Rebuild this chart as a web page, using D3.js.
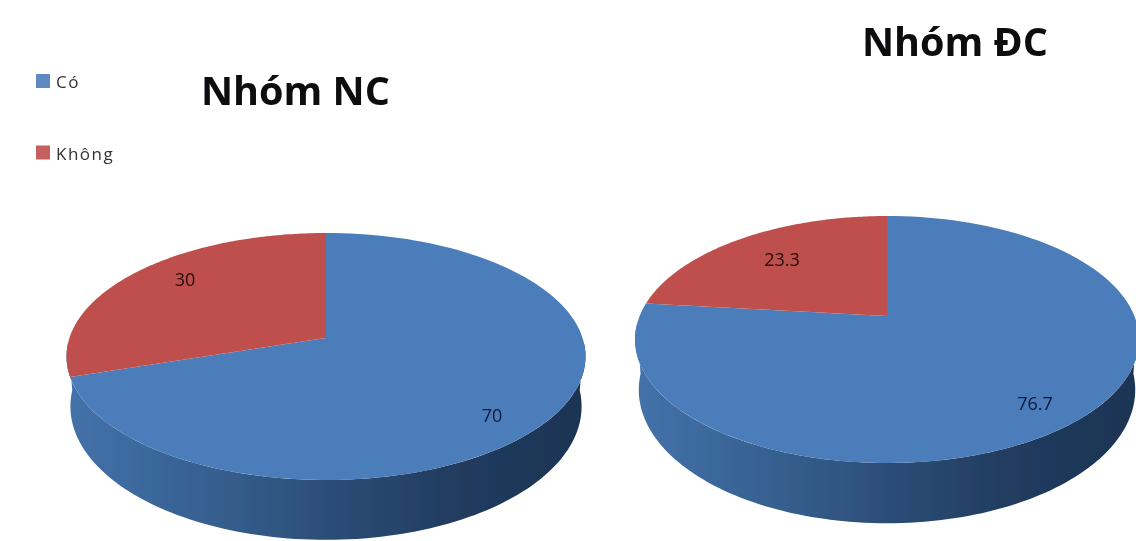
<!DOCTYPE html>
<html><head><meta charset="utf-8">
<script src="https://cdn.jsdelivr.net/npm/d3@7"></script>
<style>html,body{margin:0;padding:0;background:#fff}svg{display:block}text{font-family:"Open Sans","Noto Sans",sans-serif}</style>
</head><body><svg id="c" width="1136" height="541"></svg>
<script>
const categories = ["Có", "Không"];
const seriesNC = [70, 30];
const seriesDC = [76.7, 23.3];
const chartTitles = ["Nhóm NC", "Nhóm ĐC"];
const colors = d3.scaleOrdinal(categories, ["#4c7dba", "#bf504d"]);

const layouts = [
  {values: seriesNC, cx: 326, cy: 338, top: 105, bottom: 142, halfW: 259.5, title: [201, 105, 39.5], labels: [[492, 417], [185, 281]], id: "a"},
  {values: seriesDC, cx: 887, cy: 316, top: 100, bottom: 147, halfW: 252, title: [862, 56, 39.5], labels: [[1035, 405], [782, 261]], id: "b"}
];
const wallShift = 48.5, wallStretch = 1.08, wallNarrow = 0.985;

const svg = d3.select("#c");
const defs = svg.append("defs");
defs.append("filter").attr("id", "soft").append("feGaussianBlur").attr("stdDeviation", 0.6);
const root = svg.append("g").attr("filter", "url(#soft)");
const pie = d3.pie().sort(null).startAngle(0).endAngle(2 * Math.PI);

layouts.forEach(L => {
  const ratio = L.bottom / L.top;
  const k = (ratio - 1) / (ratio + 1);
  const B = L.top * (1 + k);
  const C = L.halfW * Math.sqrt(1 - k * k);
  const project = (a, sx = 1, sy = 1, dy = 0) => {
    const v = Math.cos(a), s = Math.sin(a), d = 1 + k * v;
    return [L.cx + sx * C * s / d, L.cy - sy * B * v / d + dy];
  };
  const line = d3.line();
  const sweep = (a0, a1, sx, sy, dy) => d3.range(0, 121).map(i => project(a0 + (a1 - a0) * i / 120, sx, sy, dy));

  // side wall
  const grad = defs.append("linearGradient").attr("id", "side" + L.id)
    .attr("gradientUnits", "userSpaceOnUse")
    .attr("x1", L.cx - L.halfW).attr("x2", L.cx + L.halfW).attr("y1", 0).attr("y2", 0);
  [[0, "#4472a9"], [0.12, "#3d6a9f"], [0.35, "#335a88"], [0.55, "#2a4a72"], [0.78, "#203a5c"], [1, "#1d3554"]]
    .forEach(s => grad.append("stop").attr("offset", s[0]).attr("stop-color", s[1]));
  const edgeAngle = Math.PI / 2 + Math.asin(k);
  const upper = sweep(edgeAngle - 0.12, 2 * Math.PI - edgeAngle + 0.12, 1, 1, 0);
  const lower = sweep(2 * Math.PI - edgeAngle + 0.12, edgeAngle - 0.12, wallNarrow, wallStretch, wallShift);
  root.append("path").attr("d", line(upper.concat(lower)) + "Z").attr("fill", `url(#side${L.id})`);

  // top face
  root.selectAll(null).data(pie(L.values)).join("path")
    .attr("d", d => line([[L.cx, L.cy]].concat(sweep(d.startAngle, d.endAngle, 1, 1, 0))) + "Z")
    .attr("fill", (d, i) => colors(categories[i]));

  // value labels
  root.selectAll(null).data(L.values).join("text")
    .attr("x", (d, i) => L.labels[i][0]).attr("y", (d, i) => L.labels[i][1])
    .attr("text-anchor", "middle").attr("dominant-baseline", "middle")
    .attr("font-size", 18).attr("fill", (d, i) => i ? "#2a0808" : "#0b1b3f")
    .text(d => d);

  // title
  root.append("text").attr("x", L.title[0]).attr("y", L.title[1])
    .attr("font-size", L.title[2]).attr("font-weight", 700).attr("fill", "#0a0a10")
    .text(chartTitles[layouts.indexOf(L)]);
});

// legend
const legendY = d3.scalePoint(categories, [81, 152.5]);
const lg = root.selectAll(null).data(categories).join("g")
  .attr("transform", d => `translate(36,${legendY(d)})`);
lg.append("rect").attr("y", -7).attr("width", 14).attr("height", 14).attr("fill", d => colors(d)).attr("opacity", 0.9);
lg.append("text").attr("x", 20).attr("y", 7).attr("font-size", 17).attr("letter-spacing", 1.5).attr("fill", "#333").text(d => d);
</script></body></html>
